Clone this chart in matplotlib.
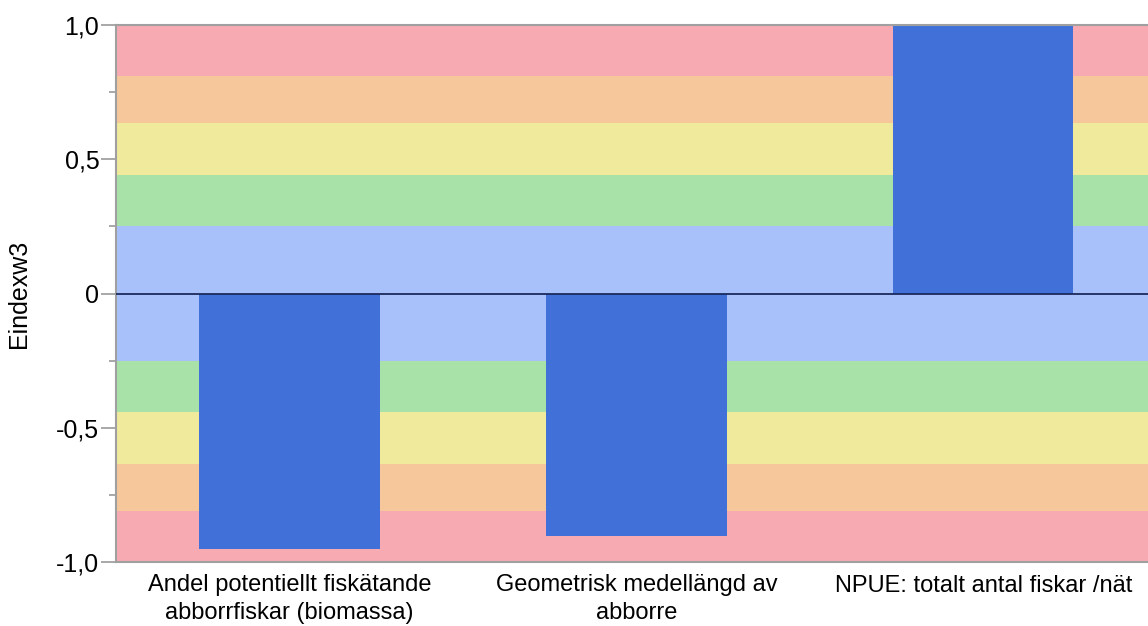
import matplotlib
matplotlib.use("Agg")
import matplotlib.pyplot as plt
from matplotlib.ticker import FixedLocator, FixedFormatter

plt.rcParams['font.family'] = ['Liberation Sans', 'DejaVu Sans']

categories = ["Andel potentiellt fiskätande\nabborrfiskar (biomassa)",
              "Geometrisk medellängd av\nabborre",
              "NPUE: totalt antal fiskar /nät"]
values = [-0.95, -0.905, 1.0]

band_edges = [0.0, 0.25, 0.44, 0.635, 0.81, 1.0]
band_colors = ["#a9c1fb", "#a8e2a8", "#f0ea9c", "#f5c79b", "#f7aab2"]

ytick_vals = [-1.0, -0.5, 0.0, 0.5, 1.0]
ytick_labels = ["-1,0", "-0,5", "0", "0,5", "1,0"]
yminor_vals = [-0.75, -0.25, 0.25, 0.75]

fig = plt.figure(figsize=(11.48, 6.26), dpi=100)
ax = fig.add_axes([116/1148, 1-562/626, 1-116/1148, (562-25)/626])

for i, c in enumerate(band_colors):
    lo, hi = band_edges[i], band_edges[i+1]
    ax.axhspan(lo, hi, color=c, lw=0, zorder=0)
    ax.axhspan(-hi, -lo, color=c, lw=0, zorder=0)

x = list(range(len(categories)))
ax.bar(x, values, width=0.52, color="#4270d9", zorder=2)
ax.axhline(0, color="#1b2a5c", lw=1.3, zorder=3)

ax.set_xlim(-0.5, 2.475)
ax.set_ylim(-1.0, 1.0)

ax.yaxis.set_major_locator(FixedLocator(ytick_vals))
ax.yaxis.set_major_formatter(FixedFormatter(ytick_labels))
ax.yaxis.set_minor_locator(FixedLocator(yminor_vals))
ax.tick_params(axis='y', which='major', length=11, width=1.2, color="#999999",
               labelsize=18, pad=1)
ax.tick_params(axis='y', which='minor', length=5, width=1.2, color="#999999")

ax.set_xticks(x)
ax.set_xticklabels(categories, fontsize=17, linespacing=1.3)
ax.tick_params(axis='x', length=0, pad=9)

for s in ['left', 'bottom', 'top']:
    ax.spines[s].set_color("#a0a0a0")
    ax.spines[s].set_linewidth(1.5)
ax.spines['right'].set_visible(False)

ax.set_ylabel("Eindexw3", fontsize=18)
ax.yaxis.set_label_coords(-(116-31)/1032, 0.5)

fig.savefig("out.png", dpi=100)
